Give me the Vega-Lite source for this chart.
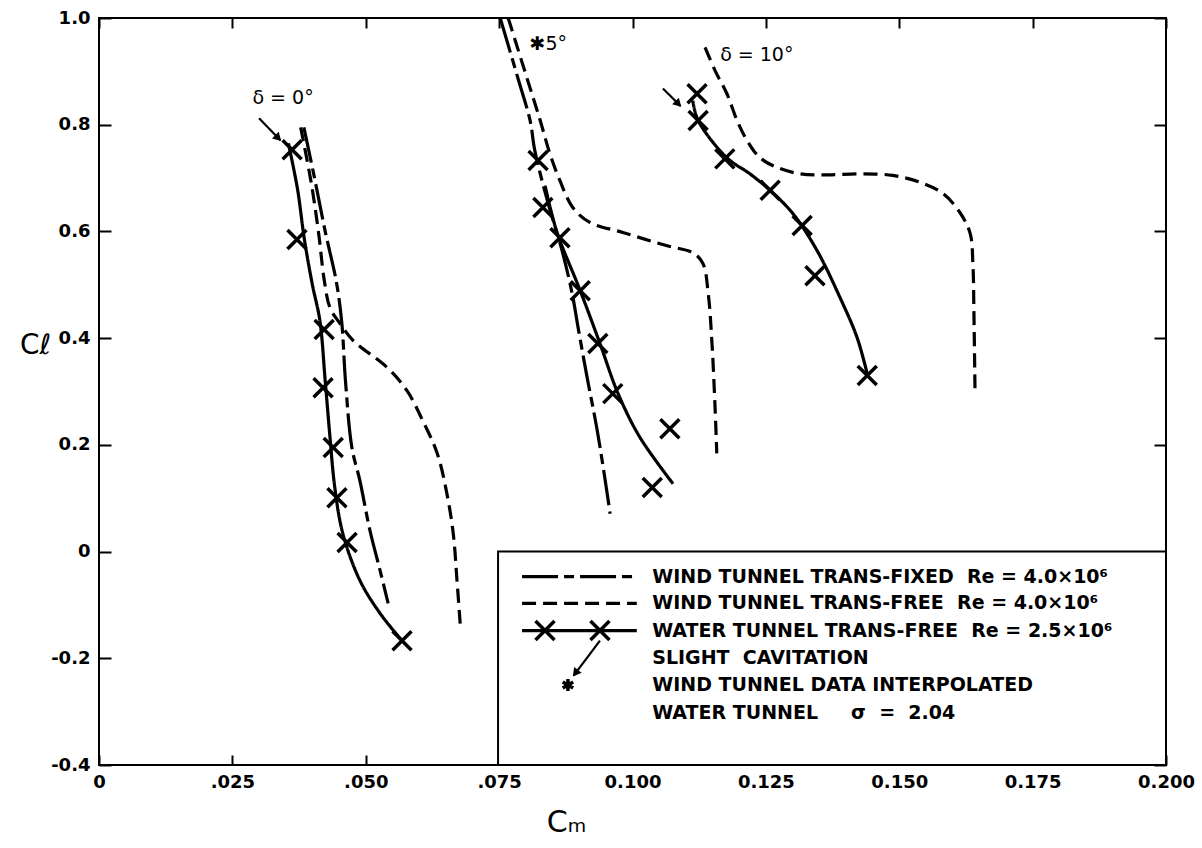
{
  "$schema": "https://vega.github.io/schema/vega-lite/v6.json",
  "autosize": {"type": "none"},
  "width": 1067,
  "height": 747,
  "padding": {"left": 99, "top": 18, "right": 36, "bottom": 83},
  "background": "white",
  "config": {
    "view": {"stroke": "black", "strokeWidth": 2},
    "axis": {"domain": false, "grid": false, "tickColor": "black", "tickWidth": 2, "labelColor": "black", "labelFont": "DejaVu Sans", "labelFontWeight": "bold", "labelFontSize": 18, "titleColor": "black", "labelFlush": false, "labelOverlap": false}
  },
  "datasets": {
    "box": [{"x": 0.0748, "x2": 0.2, "y": 0.0, "y2": -0.4}],
    "curves": [
      {"c": "d0_water", "t": "water", "i": 1, "x": 0.0355, "y": 0.765},
      {"c": "d0_water", "t": "water", "i": 2, "x": 0.0372, "y": 0.68},
      {"c": "d0_water", "t": "water", "i": 3, "x": 0.0385, "y": 0.585},
      {"c": "d0_water", "t": "water", "i": 4, "x": 0.0400, "y": 0.50},
      {"c": "d0_water", "t": "water", "i": 5, "x": 0.0414, "y": 0.433},
      {"c": "d0_water", "t": "water", "i": 6, "x": 0.0424, "y": 0.32},
      {"c": "d0_water", "t": "water", "i": 7, "x": 0.0433, "y": 0.214},
      {"c": "d0_water", "t": "water", "i": 8, "x": 0.0442, "y": 0.12},
      {"c": "d0_water", "t": "water", "i": 9, "x": 0.0457, "y": 0.034},
      {"c": "d0_water", "t": "water", "i": 10, "x": 0.0489, "y": -0.054},
      {"c": "d0_water", "t": "water", "i": 11, "x": 0.0527, "y": -0.116},
      {"c": "d0_water", "t": "water", "i": 12, "x": 0.0568, "y": -0.167},

      {"c": "d0_fixed", "t": "fixed", "i": 1, "x": 0.0384, "y": 0.795},
      {"c": "d0_fixed", "t": "fixed", "i": 2, "x": 0.0404, "y": 0.70},
      {"c": "d0_fixed", "t": "fixed", "i": 3, "x": 0.0424, "y": 0.60},
      {"c": "d0_fixed", "t": "fixed", "i": 4, "x": 0.0445, "y": 0.505},
      {"c": "d0_fixed", "t": "fixed", "i": 5, "x": 0.0455, "y": 0.43},
      {"c": "d0_fixed", "t": "fixed", "i": 6, "x": 0.0462, "y": 0.32},
      {"c": "d0_fixed", "t": "fixed", "i": 7, "x": 0.0474, "y": 0.195},
      {"c": "d0_fixed", "t": "fixed", "i": 8, "x": 0.0489, "y": 0.133},
      {"c": "d0_fixed", "t": "fixed", "i": 9, "x": 0.0508, "y": 0.039},
      {"c": "d0_fixed", "t": "fixed", "i": 10, "x": 0.0527, "y": -0.036},
      {"c": "d0_fixed", "t": "fixed", "i": 11, "x": 0.0542, "y": -0.097},

      {"c": "d0_free", "t": "free", "i": 1, "x": 0.0378, "y": 0.795},
      {"c": "d0_free", "t": "free", "i": 2, "x": 0.0398, "y": 0.69},
      {"c": "d0_free", "t": "free", "i": 3, "x": 0.0412, "y": 0.594},
      {"c": "d0_free", "t": "free", "i": 4, "x": 0.0422, "y": 0.51},
      {"c": "d0_free", "t": "free", "i": 5, "x": 0.0433, "y": 0.457},
      {"c": "d0_free", "t": "free", "i": 6, "x": 0.0452, "y": 0.427},
      {"c": "d0_free", "t": "free", "i": 7, "x": 0.0476, "y": 0.396},
      {"c": "d0_free", "t": "free", "i": 8, "x": 0.0540, "y": 0.345},
      {"c": "d0_free", "t": "free", "i": 9, "x": 0.0577, "y": 0.302},
      {"c": "d0_free", "t": "free", "i": 10, "x": 0.0607, "y": 0.245},
      {"c": "d0_free", "t": "free", "i": 11, "x": 0.0634, "y": 0.184},
      {"c": "d0_free", "t": "free", "i": 12, "x": 0.0652, "y": 0.109},
      {"c": "d0_free", "t": "free", "i": 13, "x": 0.0664, "y": 0.034},
      {"c": "d0_free", "t": "free", "i": 14, "x": 0.0671, "y": -0.054},
      {"c": "d0_free", "t": "free", "i": 15, "x": 0.0677, "y": -0.135},

      {"c": "d5_water", "t": "water", "i": 1, "x": 0.0836, "y": 0.686},
      {"c": "d5_water", "t": "water", "i": 2, "x": 0.0858, "y": 0.60},
      {"c": "d5_water", "t": "water", "i": 3, "x": 0.0902, "y": 0.489},
      {"c": "d5_water", "t": "water", "i": 4, "x": 0.0939, "y": 0.39},
      {"c": "d5_water", "t": "water", "i": 5, "x": 0.0973, "y": 0.296},
      {"c": "d5_water", "t": "water", "i": 6, "x": 0.1014, "y": 0.214},
      {"c": "d5_water", "t": "water", "i": 7, "x": 0.1076, "y": 0.127},

      {"c": "d5_fixed", "t": "fixed", "i": 1, "x": 0.0752, "y": 1.0},
      {"c": "d5_fixed", "t": "fixed", "i": 2, "x": 0.0785, "y": 0.888},
      {"c": "d5_fixed", "t": "fixed", "i": 3, "x": 0.0808, "y": 0.808},
      {"c": "d5_fixed", "t": "fixed", "i": 4, "x": 0.0817, "y": 0.751},
      {"c": "d5_fixed", "t": "fixed", "i": 5, "x": 0.0842, "y": 0.652},
      {"c": "d5_fixed", "t": "fixed", "i": 6, "x": 0.0868, "y": 0.564},
      {"c": "d5_fixed", "t": "fixed", "i": 7, "x": 0.0887, "y": 0.483},
      {"c": "d5_fixed", "t": "fixed", "i": 8, "x": 0.0898, "y": 0.42},
      {"c": "d5_fixed", "t": "fixed", "i": 9, "x": 0.0915, "y": 0.326},
      {"c": "d5_fixed", "t": "fixed", "i": 10, "x": 0.0933, "y": 0.232},
      {"c": "d5_fixed", "t": "fixed", "i": 11, "x": 0.0948, "y": 0.139},
      {"c": "d5_fixed", "t": "fixed", "i": 12, "x": 0.0958, "y": 0.071},

      {"c": "d5_free", "t": "free", "i": 1, "x": 0.0767, "y": 1.0},
      {"c": "d5_free", "t": "free", "i": 2, "x": 0.0802, "y": 0.888},
      {"c": "d5_free", "t": "free", "i": 3, "x": 0.0827, "y": 0.808},
      {"c": "d5_free", "t": "free", "i": 4, "x": 0.0845, "y": 0.746},
      {"c": "d5_free", "t": "free", "i": 5, "x": 0.0864, "y": 0.695},
      {"c": "d5_free", "t": "free", "i": 6, "x": 0.0888, "y": 0.645},
      {"c": "d5_free", "t": "free", "i": 7, "x": 0.0920, "y": 0.617},
      {"c": "d5_free", "t": "free", "i": 8, "x": 0.0982, "y": 0.598},
      {"c": "d5_free", "t": "free", "i": 9, "x": 0.1065, "y": 0.573},
      {"c": "d5_free", "t": "free", "i": 10, "x": 0.1113, "y": 0.56},
      {"c": "d5_free", "t": "free", "i": 11, "x": 0.1132, "y": 0.54},
      {"c": "d5_free", "t": "free", "i": 12, "x": 0.1142, "y": 0.483},
      {"c": "d5_free", "t": "free", "i": 13, "x": 0.1149, "y": 0.39},
      {"c": "d5_free", "t": "free", "i": 14, "x": 0.1155, "y": 0.264},
      {"c": "d5_free", "t": "free", "i": 15, "x": 0.1158, "y": 0.184},

      {"c": "d10_water", "t": "water", "i": 1, "x": 0.1113, "y": 0.845},
      {"c": "d10_water", "t": "water", "i": 2, "x": 0.1123, "y": 0.808},
      {"c": "d10_water", "t": "water", "i": 3, "x": 0.1177, "y": 0.738},
      {"c": "d10_water", "t": "water", "i": 4, "x": 0.1220, "y": 0.708},
      {"c": "d10_water", "t": "water", "i": 5, "x": 0.1258, "y": 0.677},
      {"c": "d10_water", "t": "water", "i": 6, "x": 0.1301, "y": 0.633},
      {"c": "d10_water", "t": "water", "i": 7, "x": 0.1346, "y": 0.564},
      {"c": "d10_water", "t": "water", "i": 8, "x": 0.1389, "y": 0.476},
      {"c": "d10_water", "t": "water", "i": 9, "x": 0.1421, "y": 0.401},
      {"c": "d10_water", "t": "water", "i": 10, "x": 0.1440, "y": 0.333},

      {"c": "d10_free", "t": "free", "i": 1, "x": 0.1136, "y": 0.945},
      {"c": "d10_free", "t": "free", "i": 2, "x": 0.1155, "y": 0.901},
      {"c": "d10_free", "t": "free", "i": 3, "x": 0.1177, "y": 0.858},
      {"c": "d10_free", "t": "free", "i": 4, "x": 0.1196, "y": 0.808},
      {"c": "d10_free", "t": "free", "i": 5, "x": 0.1215, "y": 0.770},
      {"c": "d10_free", "t": "free", "i": 6, "x": 0.1239, "y": 0.738},
      {"c": "d10_free", "t": "free", "i": 7, "x": 0.1271, "y": 0.720},
      {"c": "d10_free", "t": "free", "i": 8, "x": 0.1314, "y": 0.708},
      {"c": "d10_free", "t": "free", "i": 9, "x": 0.1365, "y": 0.706},
      {"c": "d10_free", "t": "free", "i": 10, "x": 0.1426, "y": 0.708},
      {"c": "d10_free", "t": "free", "i": 11, "x": 0.1488, "y": 0.705},
      {"c": "d10_free", "t": "free", "i": 12, "x": 0.1539, "y": 0.692},
      {"c": "d10_free", "t": "free", "i": 13, "x": 0.1582, "y": 0.671},
      {"c": "d10_free", "t": "free", "i": 14, "x": 0.1614, "y": 0.635},
      {"c": "d10_free", "t": "free", "i": 15, "x": 0.1633, "y": 0.596},
      {"c": "d10_free", "t": "free", "i": 16, "x": 0.1638, "y": 0.54},
      {"c": "d10_free", "t": "free", "i": 17, "x": 0.1640, "y": 0.446},
      {"c": "d10_free", "t": "free", "i": 18, "x": 0.1642, "y": 0.30},

      {"c": "leg_fixed", "t": "fixed", "i": 1, "x": 0.0793, "y": -0.047},
      {"c": "leg_fixed", "t": "fixed", "i": 2, "x": 0.1008, "y": -0.047},
      {"c": "leg_free", "t": "free", "i": 1, "x": 0.0793, "y": -0.097},
      {"c": "leg_free", "t": "free", "i": 2, "x": 0.1008, "y": -0.097},
      {"c": "leg_water", "t": "water", "i": 1, "x": 0.0793, "y": -0.148},
      {"c": "leg_water", "t": "water", "i": 2, "x": 0.1008, "y": -0.148}
    ],
    "xmarks": [
      {"g": "d0", "x": 0.0362, "y": 0.753},
      {"g": "d0", "x": 0.0371, "y": 0.585},
      {"g": "d0", "x": 0.0422, "y": 0.416},
      {"g": "d0", "x": 0.0420, "y": 0.307},
      {"g": "d0", "x": 0.0439, "y": 0.195},
      {"g": "d0", "x": 0.0446, "y": 0.101},
      {"g": "d0", "x": 0.0465, "y": 0.017},
      {"g": "d0", "x": 0.0568, "y": -0.167},
      {"g": "d5", "x": 0.0823, "y": 0.733},
      {"g": "d5", "x": 0.0832, "y": 0.645},
      {"g": "d5", "x": 0.0864, "y": 0.588},
      {"g": "d5", "x": 0.0902, "y": 0.489},
      {"g": "d5", "x": 0.0935, "y": 0.390},
      {"g": "d5", "x": 0.0963, "y": 0.296},
      {"g": "d5", "x": 0.1070, "y": 0.230},
      {"g": "d5", "x": 0.1037, "y": 0.120},
      {"g": "d10", "x": 0.1121, "y": 0.858},
      {"g": "d10", "x": 0.1123, "y": 0.808},
      {"g": "d10", "x": 0.1173, "y": 0.736},
      {"g": "d10", "x": 0.1258, "y": 0.677},
      {"g": "d10", "x": 0.1318, "y": 0.611},
      {"g": "d10", "x": 0.1342, "y": 0.517},
      {"g": "d10", "x": 0.1440, "y": 0.330},
      {"g": "leg", "x": 0.0836, "y": -0.148},
      {"g": "leg", "x": 0.0939, "y": -0.148}
    ],
    "arrows": [
      {"a": "a0", "i": 1, "x": 0.0300, "y": 0.812},
      {"a": "a0", "i": 2, "x": 0.0340, "y": 0.771},
      {"a": "a10", "i": 1, "x": 0.1057, "y": 0.868},
      {"a": "a10", "i": 2, "x": 0.1090, "y": 0.835},
      {"a": "leg", "i": 1, "x": 0.0939, "y": -0.167},
      {"a": "leg", "i": 2, "x": 0.0890, "y": -0.232}
    ],
    "heads": [
      {"a": "a0", "x": 0.0336, "y": 0.775},
      {"a": "a10", "x": 0.1086, "y": 0.839},
      {"a": "leg", "x": 0.0893, "y": -0.228}
    ],
    "star": [{"x": 0.0879, "y": -0.250}],
    "labels": [
      {"x": 0.0345, "y": 0.85, "text": "δ = 0°"},
      {"x": 0.0842, "y": 0.952, "text": "✱5°"},
      {"x": 0.1233, "y": 0.93, "text": "δ = 10°"}
    ],
    "legendtext": [
      {"x": 0.1037, "y": -0.047, "text": "WIND TUNNEL TRANS-FIXED\u00a0\u00a0Re = 4.0×10⁶"},
      {"x": 0.1037, "y": -0.097, "text": "WIND TUNNEL TRANS-FREE\u00a0\u00a0Re = 4.0×10⁶"},
      {"x": 0.1037, "y": -0.148, "text": "WATER TUNNEL TRANS-FREE\u00a0\u00a0Re = 2.5×10⁶"},
      {"x": 0.1037, "y": -0.200, "text": "SLIGHT\u00a0\u00a0CAVITATION"},
      {"x": 0.1037, "y": -0.251, "text": "WIND TUNNEL DATA INTERPOLATED"},
      {"x": 0.1037, "y": -0.302, "text": "WATER TUNNEL\u00a0\u00a0\u00a0\u00a0\u00a0σ\u00a0\u00a0=\u00a0\u00a02.04"}
    ]
  },
  "encoding": {
    "x": {"field": "x", "type": "quantitative", "scale": {"domain": [0, 0.2], "nice": false, "zero": false}, "axis": null},
    "y": {"field": "y", "type": "quantitative", "scale": {"domain": [-0.4, 1.0], "nice": false, "zero": false}, "axis": null}
  },
  "resolve": {"axis": {"x": "independent", "y": "independent"}},
  "layer": [
    {
      "data": {"name": "box"},
      "mark": {"type": "rect", "fill": "white", "stroke": "black", "strokeWidth": 2},
      "encoding": {
        "x": {"field": "x", "type": "quantitative", "scale": {"domain": [0, 0.2], "nice": false, "zero": false},
              "axis": {"orient": "top", "values": [0, 0.025, 0.05, 0.075, 0.1, 0.125, 0.15, 0.175, 0.2], "labels": false, "tickSize": -10, "title": null}},
        "x2": {"field": "x2"},
        "y": {"field": "y", "type": "quantitative", "scale": {"domain": [-0.4, 1.0], "nice": false, "zero": false},
              "axis": {"orient": "right", "values": [-0.4, -0.2, 0, 0.2, 0.4, 0.6, 0.8, 1.0], "labels": false, "tickSize": -12, "title": null}},
        "y2": {"field": "y2"}
      }
    },
    {
      "data": {"name": "curves"},
      "mark": {"type": "line", "interpolate": "catmull-rom", "strokeWidth": 3.2, "color": "black", "strokeCap": "butt"},
      "encoding": {
        "x": {"field": "x", "type": "quantitative", "scale": {"domain": [0, 0.2], "nice": false, "zero": false},
              "axis": {"orient": "bottom", "values": [0, 0.025, 0.05, 0.075, 0.1, 0.125, 0.15, 0.175, 0.2], "tickSize": -10, "labelPadding": 18,
                       "labelExpr": "datum.value == 0 ? '0' : (datum.value < 0.0999 ? replace(format(datum.value, '.3f'), '0.', '.') : format(datum.value, '.3f'))",
                       "title": "Cₘ", "titleFont": "DejaVu Sans", "titleFontSize": 30, "titleFontWeight": "normal", "titleX": 467, "titleY": 57, "titleBaseline": "middle", "titleAlign": "center"}},
        "y": {"field": "y", "type": "quantitative", "scale": {"domain": [-0.4, 1.0], "nice": false, "zero": false},
              "axis": {"orient": "left", "values": [-0.4, -0.2, 0, 0.2, 0.4, 0.6, 0.8, 1.0], "tickSize": -12, "labelPadding": 21,
                       "labelExpr": "datum.value == 0 ? '0' : (datum.value < 0 ? '-' + format(-datum.value, '.1f') : format(datum.value, '.1f'))",
                       "title": "Cℓ", "titleAngle": 0, "titleFont": "DejaVu Sans", "titleFontSize": 28, "titleFontWeight": "normal", "titleX": -64, "titleY": 327, "titleBaseline": "middle", "titleAlign": "center"}},
        "detail": {"field": "c"},
        "order": {"field": "i", "type": "quantitative"},
        "strokeDash": {"field": "t", "type": "nominal", "scale": {"domain": ["fixed", "free", "water"], "range": [[36, 6, 10, 6], [14, 7], [1, 0]]}, "legend": null}
      }
    },
    {
      "data": {"name": "xmarks"},
      "mark": {"type": "point", "shape": "M-1,-1L1,1M-1,1L1,-1", "filled": false, "stroke": "black", "strokeWidth": 3.5, "size": 361, "opacity": 1}
    },
    {
      "data": {"name": "arrows"},
      "mark": {"type": "line", "strokeWidth": 2.2, "color": "black"},
      "encoding": {
        "detail": {"field": "a"},
        "order": {"field": "i", "type": "quantitative"}
      }
    },
    {
      "data": {"name": "heads"},
      "transform": [{"filter": "datum.a == 'a0'"}],
      "mark": {"type": "point", "shape": "triangle-up", "filled": true, "color": "black", "angle": 135, "size": 90, "opacity": 1}
    },
    {
      "data": {"name": "heads"},
      "transform": [{"filter": "datum.a == 'a10'"}],
      "mark": {"type": "point", "shape": "triangle-up", "filled": true, "color": "black", "angle": 135, "size": 90, "opacity": 1}
    },
    {
      "data": {"name": "heads"},
      "transform": [{"filter": "datum.a == 'leg'"}],
      "mark": {"type": "point", "shape": "triangle-up", "filled": true, "color": "black", "angle": 217, "size": 90, "opacity": 1}
    },
    {
      "data": {"name": "star"},
      "mark": {"type": "point", "shape": "M0,-1L0,1M-0.87,-0.5L0.87,0.5M-0.87,0.5L0.87,-0.5", "filled": false, "stroke": "black", "strokeWidth": 3.5, "size": 144, "opacity": 1}
    },
    {
      "data": {"name": "labels"},
      "mark": {"type": "text", "font": "DejaVu Sans", "fontSize": 19, "align": "center", "baseline": "middle", "color": "black"},
      "encoding": {"text": {"field": "text"}}
    },
    {
      "data": {"name": "legendtext"},
      "mark": {"type": "text", "font": "DejaVu Sans", "fontWeight": "bold", "fontSize": 19, "align": "left", "baseline": "middle", "color": "black"},
      "encoding": {"text": {"field": "text"}}
    }
  ]
}
